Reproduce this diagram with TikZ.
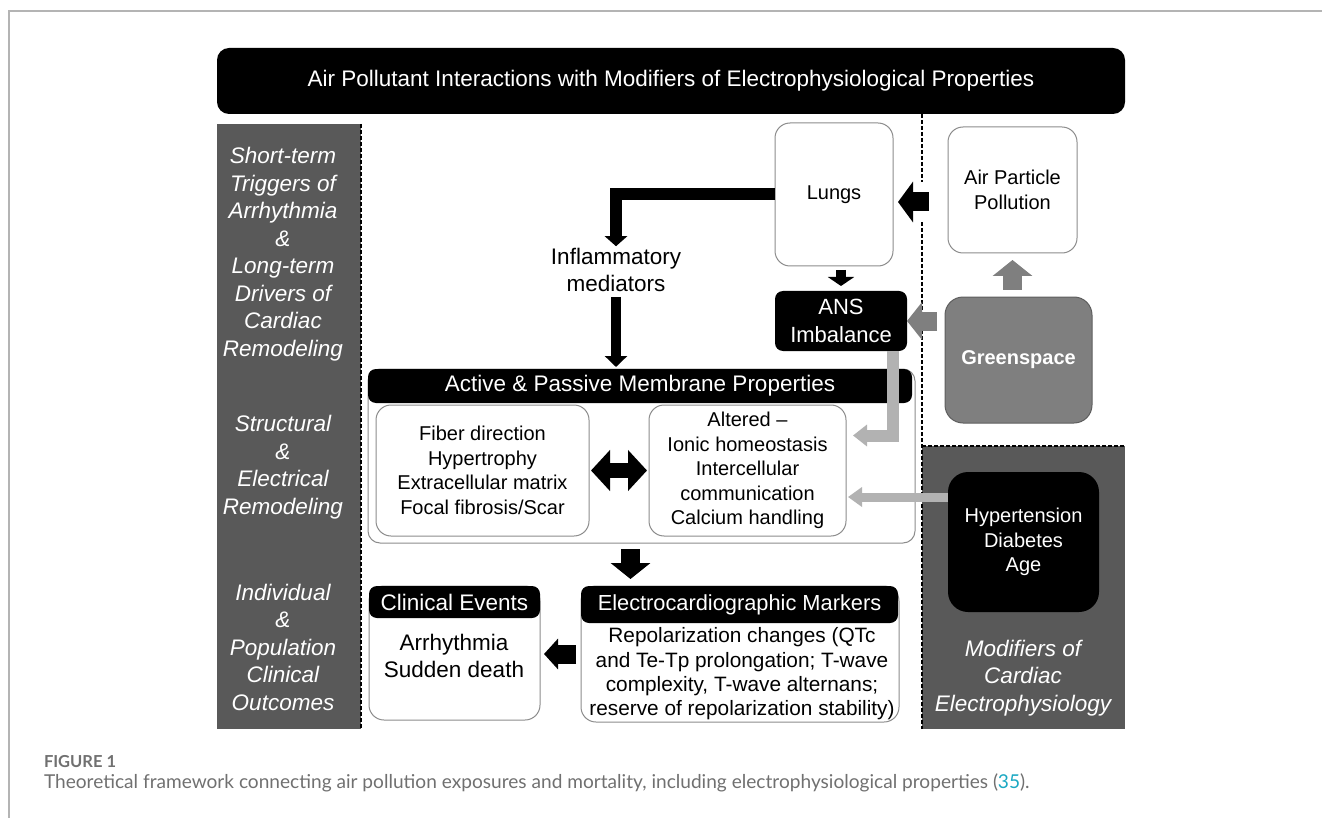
\documentclass[tikz,border=0pt]{standalone}
\usepackage{xcolor}
\usepackage{fontspec}
\setmainfont{Liberation Sans}
\newfontfamily\capfont{Lato}
\usepackage{tikz}
\usetikzlibrary{arrows.meta}
\usetikzlibrary{calc}

\definecolor{panelgray}{HTML}{595959}
\definecolor{greengray}{HTML}{7F7F7F}
\definecolor{greenline}{HTML}{5E5E5E}
\definecolor{lightgray}{HTML}{B2B2B2}
\definecolor{boxline}{HTML}{8C8C8C}
\definecolor{framegray}{HTML}{B4B4B4}
\definecolor{capgray}{HTML}{707070}
\definecolor{citeblue}{HTML}{1AA8C2}

\tikzset{
  base/.style={inner sep=0pt, outer sep=0pt, align=center},
  bigtext/.style={font=\fontsize{22.5}{27}\selectfont},
  boxtext/.style={font=\fontsize{20}{24.5}\selectfont},
  whitebox/.style={base, boxtext, draw=boxline, line width=1pt, fill=white, rounded corners=15pt},
  blackbox/.style={base, fill=black, text=white, rounded corners=8pt},
  panel/.style={base, fill=panelgray},
  paneltext/.style={base, text=white, font=\fontsize{22.5}{27.5}\selectfont\itshape},
  dashline/.style={black, line width=2pt, dash pattern=on 4pt off 2pt},
  fat/.style n args={3}{black, line width=#1pt, -{Triangle[width=#2pt,length=#3pt]}},
  grayfat/.style n args={3}{greengray, line width=#1pt, -{Triangle[width=#2pt,length=#3pt]}},
  lightfat/.style n args={3}{lightgray, line width=#1pt, -{Triangle[width=#2pt,length=#3pt]}},
  twofat/.style n args={3}{black, line width=#1pt, {Triangle[width=#2pt,length=#3pt]}-{Triangle[width=#2pt,length=#3pt]}}
}

\begin{document}
\begin{tikzpicture}[x=1pt, y=-1pt]
\useasboundingbox (0,0) rectangle (1322,818);
% frame of the figure
\draw[framegray, line width=1.5pt] (9,818) -- (9,11) -- (1322,11);

% title and side panels
\node[blackbox, bigtext, rounded corners=12pt, minimum width=908pt, minimum height=66pt] (title) at (671,81)
  {Air Pollutant Interactions with Modifiers of Electrophysiological Properties};
\node[panel, minimum width=144pt, minimum height=605pt] (leftpanel) at (289,426.5) {};
\node[panel, minimum width=203pt, minimum height=283pt] (rightpanel) at (1023.5,587.5) {};
\node[paneltext] (triggers) at (283,254) {Short-term\\Triggers of\\Arrhythmia\\\&\\Long-term\\Drivers of\\Cardiac\\Remodeling};
\node[paneltext] (remodel) at (283,467) {Structural\\\&\\Electrical\\Remodeling};
\node[paneltext] (outcomes) at (283,647) {Individual\\\&\\Population\\Clinical\\Outcomes};
\node[paneltext] (modifiers) at (1023,678) {Modifiers of\\Cardiac\\Electrophysiology};
\draw[dashline] (leftpanel.north east) -- (leftpanel.south east);
\draw[dashline] (title.south -| rightpanel.west) -- (rightpanel.south west);
\draw[dashline] (rightpanel.north west) -- (rightpanel.north east);

% exposure side
\node[whitebox, minimum width=118pt, minimum height=143pt] (lungs) at (834,194.5) {Lungs};
\node[whitebox, minimum width=129pt, minimum height=126pt] (air) at (1012.5,190) {Air Particle\\Pollution};
\node[base, fill=greengray, draw=greenline, line width=1pt, rounded corners=18pt, text=white,
  font=\fontsize{20}{24}\selectfont\bfseries, minimum width=147pt, minimum height=126pt] (green) at (1018.5,360) {Greenspace};
\node[blackbox, font=\fontsize{22}{28}\selectfont, minimum width=132pt, minimum height=60pt] (ANS) at (841,321) {ANS\\Imbalance};
\node[blackbox, boxtext, rounded corners=20pt, minimum width=151pt, minimum height=140pt] (hyper) at (1023.5,542)
  {Hypertension\\Diabetes\\Age};
\node[base, bigtext, inner sep=2pt] (inflam) at (616,270) {Inflammatory\\mediators};

% membrane properties
\node[whitebox, rounded corners=12pt, minimum width=547pt, minimum height=174pt] (memb) at (641.5,456) {};
\node[blackbox, bigtext, minimum width=544pt, minimum height=34pt] (membh) at (640,386) {Active \& Passive Membrane Properties};
\node[whitebox, minimum width=213pt, minimum height=131pt] (fiber) at (482.5,470.5)
  {Fiber direction\\Hypertrophy\\Extracellular matrix\\Focal fibrosis/Scar};
\node[whitebox, minimum width=197pt, minimum height=131pt] (altered) at (747.5,470.5)
  {Altered --\\Ionic homeostasis\\Intercellular\\communication\\Calcium handling};

% outcomes
\node[whitebox, minimum width=171pt, minimum height=134pt] (clin) at (454.5,653) {};
\node[blackbox, bigtext, minimum width=171pt, minimum height=32pt] (clinh) at (454.5,602) {Clinical Events};
\node[base, bigtext] (clintxt) at (454,656) {Arrhythmia\\Sudden death};
\node[whitebox, minimum width=318pt, minimum height=136pt] (ecg) at (740,654) {};
\node[blackbox, font=\fontsize{21.8}{26}\selectfont, minimum width=317pt, minimum height=37pt] (ecgh) at (739.5,604.5)
  {Electrocardiographic Markers};
\node[base, font=\fontsize{20.8}{24.4}\selectfont] (ecgtxt) at (742,674)
  {Repolarization changes (QTc\\and Te-Tp prolongation; T-wave\\complexity, T-wave alternans;\\reserve of repolarization stability)};

% arrows
\coordinate (airin) at ([yshift=-12pt]air.west);
\coordinate (ansout) at ([xshift=-14pt]ANS.south east);
\coordinate (altin) at ([yshift=35pt]altered.east);
\coordinate (hyperout) at ([yshift=45pt]hyper.west);
\coordinate (membout) at ([xshift=-11pt]memb.south);
\draw[fat={12}{22}{10}] (lungs.west) -| (inflam.north);
\draw[fat={10}{22}{11}, shorten <=3pt, shorten >=2pt] (inflam.south) -- (inflam.south |- membh.north);
\draw[white, line width=40pt, shorten <=10pt, shorten >=22pt] (airin) -- (lungs.east |- airin);
\draw[fat={19}{40}{15}, shorten <=19pt, shorten >=5pt] (airin) -- (lungs.east |- airin);
\draw[fat={10}{26}{9}, shorten <=4pt, shorten >=5pt] (ANS.north |- lungs.south) -- (ANS.north);
\draw[grayfat={19}{37}{15}, shorten <=8pt] (green.west |- ANS.east) -- (ANS.east);
\draw[grayfat={19}{39}{16}, shorten <=7pt, shorten >=7pt] (air.south |- green.north) -- (air.south);
\draw[lightfat={12}{21}{14}, shorten >=7pt] (ansout) |- (altin);
\draw[lightfat={9}{19}{14}, shorten >=2pt] (hyperout) -- (altered.east |- hyperout);
\draw[twofat={15}{40}{19}, shorten <=2pt, shorten >=2pt] (fiber.east) -- (altered.west);
\draw[fat={19}{39}{16}, shorten <=6pt, shorten >=7pt] (membout) -- (membout |- ecgh.north);
\draw[fat={19}{30}{14}, shorten <=5pt, shorten >=4pt] (ecg.west) -- (clin.east |- ecg.west);

% caption
\node[base, anchor=west, text=capgray, font=\capfont\fontsize{16.5}{18}\selectfont\bfseries] (figlabel) at (44,762) {FIGURE 1};
\node[base, anchor=west, text=capgray, font=\capfont\fontsize{19.1}{21}\selectfont] (caption) at (44,783)
  {Theoretical framework connecting air pollution exposures and mortality, including electrophysiological properties (\textcolor{citeblue}{35}).};
\end{tikzpicture}
\end{document}
